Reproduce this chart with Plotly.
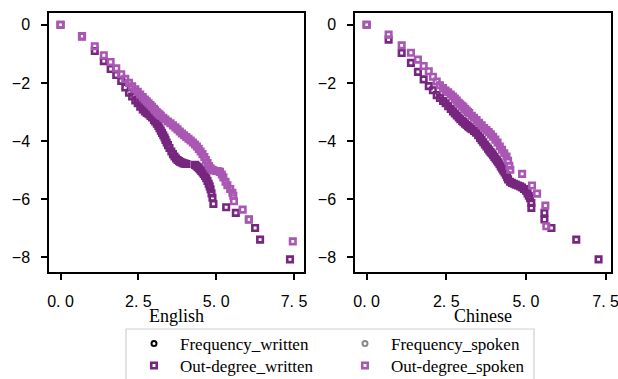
import plotly.graph_objects as go
from plotly.subplots import make_subplots

# ---------------- data (ln rank vs ln value) ----------------
EN_WRITTEN_X = [0, 0.69, 1.10, 1.39, 1.61, 1.79, 1.95, 2.08, 2.20, 2.30, 2.40, 2.48, 2.56, 2.64, 2.71, 2.77,
                2.83, 2.89, 2.94, 3.00, 3.04, 3.09, 3.14, 3.18, 3.22, 3.26, 3.30, 3.34, 3.37, 3.41, 3.45, 3.50,
                3.56, 3.61, 3.66, 3.71, 3.76, 3.81, 3.85, 3.89, 3.93, 3.97, 4.01, 4.05, 4.32, 4.36, 4.40, 4.44,
                4.48, 4.52, 4.56, 4.60, 4.64, 4.68, 4.72, 4.76, 4.79, 4.82, 4.85, 4.88, 4.91, 5.32, 5.63, 6.05,
                6.25, 6.41, 7.37]
EN_WRITTEN_Y = [0, -0.40, -0.90, -1.25, -1.52, -1.73, -1.93, -2.16, -2.34, -2.47, -2.60, -2.70, -2.82, -2.91,
                -2.98, -3.03, -3.08, -3.14, -3.19, -3.27, -3.33, -3.40, -3.48, -3.56, -3.64, -3.72, -3.80, -3.88,
                -3.96, -4.05, -4.14, -4.24, -4.36, -4.45, -4.53, -4.60, -4.65, -4.69, -4.72, -4.74, -4.76, -4.77,
                -4.78, -4.79, -4.82, -4.85, -4.89, -4.93, -4.98, -5.03, -5.08, -5.13, -5.20, -5.28, -5.37, -5.47,
                -5.56, -5.66, -5.80, -5.95, -6.16, -6.28, -6.47, -6.70, -6.99, -7.39, -8.07]

EN_SPOKEN_X = [0, 0.69, 1.10, 1.39, 1.61, 1.79, 1.95, 2.08, 2.20, 2.30, 2.40, 2.48, 2.56, 2.64, 2.71, 2.77,
               2.83, 2.89, 2.94, 3.00, 3.04, 3.09, 3.14, 3.18, 3.22, 3.30, 3.37, 3.45, 3.53, 3.61, 3.69, 3.76,
               3.83, 3.90, 3.97, 4.04, 4.11, 4.18, 4.25, 4.32, 4.38, 4.44, 4.50, 4.56, 4.62, 4.67, 4.72, 4.77,
               4.82, 4.87, 4.91, 5.00, 5.07, 5.12, 5.18, 5.23, 5.30, 5.36, 5.45, 5.52, 5.55, 5.57, 5.85, 6.05,
               7.46]
EN_SPOKEN_Y = [0, -0.40, -0.74, -1.05, -1.28, -1.50, -1.70, -1.86, -2.00, -2.12, -2.22, -2.31, -2.40, -2.49,
               -2.57, -2.63, -2.70, -2.76, -2.82, -2.89, -2.94, -3.00, -3.05, -3.09, -3.13, -3.20, -3.26, -3.33,
               -3.39, -3.46, -3.53, -3.60, -3.67, -3.74, -3.80, -3.86, -3.92, -3.98, -4.05, -4.12, -4.19, -4.27,
               -4.36, -4.45, -4.55, -4.65, -4.76, -4.86, -4.94, -4.99, -5.01, -5.03, -5.04, -5.06, -5.15, -5.25,
               -5.40, -5.52, -5.65, -5.78, -5.88, -6.07, -6.36, -6.70, -7.45]

ZH_WRITTEN_X = [0, 0.69, 1.10, 1.39, 1.61, 1.79, 1.95, 2.08, 2.20, 2.30, 2.40, 2.48, 2.56, 2.64, 2.71, 2.77,
                2.83, 2.89, 2.94, 3.00, 3.04, 3.09, 3.14, 3.18, 3.22, 3.26, 3.30, 3.37, 3.43, 3.50, 3.56, 3.61,
                3.66, 3.71, 3.76, 3.81, 3.85, 3.89, 3.93, 3.97, 4.01, 4.05, 4.09, 4.13, 4.17, 4.21, 4.25, 4.29,
                4.33, 4.37, 4.41, 4.44, 4.50, 4.56, 4.62, 4.68, 4.75, 4.82, 4.88, 4.94, 5.00, 5.05, 5.09, 5.13,
                5.17, 5.17, 5.58, 5.58, 5.80, 6.58, 7.28]
ZH_WRITTEN_Y = [0, -0.51, -0.97, -1.31, -1.62, -1.88, -2.11, -2.25, -2.42, -2.52, -2.62, -2.70, -2.80, -2.90,
                -2.98, -3.05, -3.12, -3.19, -3.25, -3.31, -3.35, -3.40, -3.45, -3.49, -3.52, -3.56, -3.59, -3.65,
                -3.71, -3.80, -3.89, -3.97, -4.04, -4.12, -4.19, -4.26, -4.32, -4.38, -4.43, -4.49, -4.55, -4.61,
                -4.67, -4.73, -4.80, -4.87, -4.94, -5.01, -5.08, -5.16, -5.24, -5.32, -5.40, -5.44, -5.47, -5.50,
                -5.53, -5.56, -5.60, -5.65, -5.71, -5.80, -5.88, -5.97, -6.13, -6.30, -6.47, -6.70, -6.99, -7.39,
                -8.07]

ZH_SPOKEN_X = [0, 0.69, 1.10, 1.39, 1.61, 1.79, 1.95, 2.08, 2.20, 2.30, 2.40, 2.48, 2.56, 2.64, 2.71, 2.77,
               2.83, 2.89, 2.94, 3.00, 3.04, 3.09, 3.14, 3.18, 3.22, 3.30, 3.37, 3.45, 3.53, 3.61, 3.69, 3.76,
               3.83, 3.90, 3.97, 4.04, 4.11, 4.18, 4.25, 4.32, 4.39, 4.44, 4.48, 4.51, 4.88, 5.19, 5.35, 5.61,
               5.64]
ZH_SPOKEN_Y = [0, -0.34, -0.71, -0.96, -1.20, -1.42, -1.60, -1.79, -1.95, -2.08, -2.18, -2.26, -2.32, -2.40,
               -2.47, -2.54, -2.61, -2.68, -2.74, -2.79, -2.84, -2.90, -2.95, -3.00, -3.04, -3.13, -3.20, -3.28,
               -3.37, -3.46, -3.55, -3.62, -3.69, -3.77, -3.85, -3.95, -4.05, -4.19, -4.30, -4.42, -4.53, -4.68,
               -4.85, -4.99, -5.13, -5.53, -5.81, -6.22, -6.93]

PANEL_TITLES = ["English", "Chinese"]
X_TICKS = [0, 2.5, 5.0, 7.5]
X_TICK_TEXT = ["0. 0", "2. 5", "5. 0", "7. 5"]
Y_TICKS = [0, -2, -4, -6, -8]
Y_TICK_TEXT = ["0", "\u22122", "\u22124", "\u22126", "\u22128"]

assert len(EN_WRITTEN_X) == len(EN_WRITTEN_Y)
assert len(EN_SPOKEN_X) == len(EN_SPOKEN_Y)
assert len(ZH_WRITTEN_X) == len(ZH_WRITTEN_Y)
assert len(ZH_SPOKEN_X) == len(ZH_SPOKEN_Y)

DARK = "#77267f"
LIGHT = "#a957b3"

W, H = 618, 379
ML, MR, MT, MB = 49, 7, 13, 107
PW = W - ML - MR
PH = H - MT - MB

fig = make_subplots(rows=1, cols=2)

def sq(color):
    return dict(symbol="square-open", size=5.5, color=color, line=dict(width=2.6, color=color))

# legend-only frequency entries
fig.add_trace(go.Scatter(x=[None], y=[None], mode="markers", name="Frequency_written",
                         marker=dict(symbol="circle-open", size=5, color="black", line=dict(width=2, color="black")),
                         legend="legend"), row=1, col=1)
fig.add_trace(go.Scatter(x=[None], y=[None], mode="markers", name="Frequency_spoken",
                         marker=dict(symbol="circle-open", size=5, color="#888888", line=dict(width=2, color="#888888")),
                         legend="legend"), row=1, col=1)

panels = [(EN_WRITTEN_X, EN_WRITTEN_Y, EN_SPOKEN_X, EN_SPOKEN_Y),
          (ZH_WRITTEN_X, ZH_WRITTEN_Y, ZH_SPOKEN_X, ZH_SPOKEN_Y)]
for col, (wx, wy, sx, sy) in enumerate(panels, start=1):
    fig.add_trace(go.Scatter(x=wx, y=wy, mode="markers", name="Out-degree_written", marker=sq(DARK),
                             legend="legend2", showlegend=(col == 1)), row=1, col=col)
for col, (wx, wy, sx, sy) in enumerate(panels, start=1):
    fig.add_trace(go.Scatter(x=sx, y=sy, mode="markers", name="Out-degree_spoken", marker=sq(LIGHT),
                             legend="legend2", showlegend=(col == 1)), row=1, col=col)

axis_common = dict(showline=True, linecolor="black", linewidth=1.5, mirror=True, showgrid=False,
                   zeroline=False, ticks="outside", ticklen=6, tickwidth=1.5, tickcolor="black",
                   tickfont=dict(family="Liberation Sans, Arial, sans-serif", size=16, color="black"),
                   ticklabelstandoff=8, automargin=False, ticklabeloverflow="allow")

fig.update_xaxes(**axis_common, tickvals=X_TICKS, ticktext=X_TICK_TEXT)
fig.update_yaxes(**axis_common, tickvals=Y_TICKS, ticktext=Y_TICK_TEXT, range=[-8.505, 0.405])

title_font = dict(family="Liberation Serif, Times New Roman, serif", size=18, color="black")
d1 = (304 - ML) / PW
d2 = (355 - ML) / PW
fig.update_layout(
    xaxis=dict(domain=[0, d1], range=[-0.37, 7.82],
               title=dict(text=PANEL_TITLES[0], font=title_font, standoff=6)),
    xaxis2=dict(domain=[d2, 1], range=[-0.365, 7.67],
                title=dict(text=PANEL_TITLES[1], font=title_font, standoff=6)),
)

legend_font = dict(family="Liberation Serif, Times New Roman, serif", size=17, color="black")
common_legend = dict(orientation="h", xref="container", yref="container", xanchor="left", yanchor="top",
                     font=legend_font, entrywidth=154, entrywidthmode="pixels", itemwidth=42,
                     bgcolor="rgba(0,0,0,0)", tracegroupgap=0, itemsizing="trace")
fig.update_layout(
    width=W, height=H,
    margin=dict(l=ML, r=MR, t=MT, b=MB),
    paper_bgcolor="white", plot_bgcolor="white",
    legend=dict(**common_legend, x=128 / W, y=1 - 326 / H),
    legend2=dict(**common_legend, x=128 / W, y=1 - 348 / H),
    shapes=[dict(type="rect", xref="paper", yref="paper",
                 x0=(126 - ML) / PW, x1=(534 - ML) / PW,
                 y0=(H - MB - 390) / PH, y1=(H - MB - 329) / PH,
                 line=dict(color="#cfcfcf", width=1.2), fillcolor="rgba(0,0,0,0)", layer="above")],
    showlegend=True,
)

fig.write_html("out.html", config={"displayModeBar": False},
               post_script="document.body.style.margin='0';document.body.style.overflow='hidden';")
